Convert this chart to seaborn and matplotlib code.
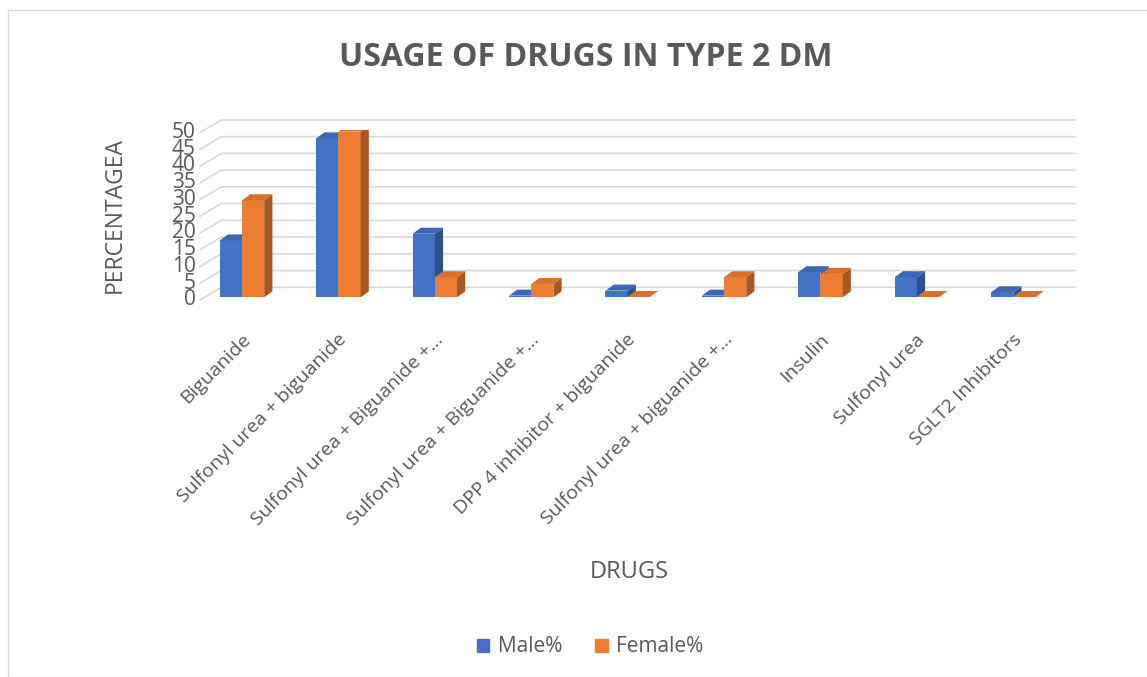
import matplotlib
matplotlib.use("Agg")
import matplotlib.pyplot as plt
import matplotlib.transforms as mtransforms
import pandas as pd
import seaborn as sns
from matplotlib.patches import Polygon, Rectangle
from matplotlib.colors import to_rgb

# data
DRUGS = ['Biguanide', 'Sulfonyl urea + biguanide', 'Sulfonyl urea + Biguanide +\u2026',
         'Sulfonyl urea + Biguanide +\u2026', 'DPP 4 inhibitor + biguanide',
         'Sulfonyl urea + biguanide +\u2026', 'Insulin', 'Sulfonyl urea', 'SGLT2 Inhibitors']
MALE = [17, 47.5, 19, 0.5, 2, 0.5, 7.5, 6, 1.5]
FEMALE = [29, 49.5, 6, 4, 0, 6, 7, 0, 0]
SERIES = ['Male%', 'Female%']
COLORS = ['#4472C4', '#ED7D31']
TICKS = list(range(0, 51, 5))

rows = []
for i, d in enumerate(DRUGS):
    rows.append({'drug': i, 'series': SERIES[0], 'value': MALE[i]})
    rows.append({'drug': i, 'series': SERIES[1], 'value': FEMALE[i]})
df = pd.DataFrame(rows)

sns.set_theme(style="white")
plt.rcParams['font.family'] = ['Open Sans', 'DejaVu Sans']
grey = '#595959'

fig = plt.figure(figsize=(11.47, 6.77), dpi=100)
ax = fig.add_axes([200 / 1147, 1 - 300 / 677, 875 / 1147, 170 / 677])

sns.barplot(data=df, x='drug', y='value', hue='series', palette=COLORS,
            width=0.46, gap=0, saturation=1, linewidth=0, ax=ax, zorder=3, legend=False)

ax.set_ylim(-0.8, 50)
ax.set_xlim(-0.436, 8.64)

# fake 3D depth: side and top faces built from the bars seaborn drew
# male bars first, female bars on top so they hide the male side faces
dx, dy = 0.085, 1.8
n = len(DRUGS)
for k, bar in enumerate(list(ax.patches)):
    z = 3 if k < n else 4
    bar.set_zorder(z)
    x0, w, h = bar.get_x(), bar.get_width(), bar.get_height()
    if h < 0.1:
        h = 0.1
        bar.set_height(h)
    c = to_rgb(bar.get_facecolor())
    dark = tuple(v * 0.7 for v in c)
    top = tuple(min(1, v * 0.9) for v in c)
    ax.add_patch(Polygon([(x0 + w, 0), (x0 + w + dx, dy), (x0 + w + dx, h + dy), (x0 + w, h)],
                         closed=True, facecolor=dark, edgecolor='none', zorder=z))
    ax.add_patch(Polygon([(x0, h), (x0 + dx, h + dy), (x0 + w + dx, h + dy), (x0 + w, h)],
                         closed=True, facecolor=top, edgecolor='none', zorder=z))

# gridlines on the back wall, with a slanted side wall on the left
x_left, x_right = ax.get_xlim()
for v in TICKS:
    ax.plot([x_left, x_left + 0.22, x_right], [v - 0.8, v + 3.0, v + 3.0], color='#d9d9d9',
            linewidth=1.2, zorder=1, clip_on=False)

ax.set_yticks(TICKS)
for s in ax.spines.values():
    s.set_visible(False)

ax.tick_params(axis='y', labelsize=15, labelcolor=grey, length=0, pad=3)
ax.tick_params(axis='x', labelsize=14, labelcolor=grey, length=0, pad=22)
ax.set_xticks(range(n))
ax.set_xticklabels(DRUGS, rotation=45, ha='right', rotation_mode='anchor')
shift = mtransforms.ScaledTranslation(-1 / 100, 0, fig.dpi_scale_trans)
for lab in ax.get_xticklabels():
    lab.set_transform(lab.get_transform() + shift)

ax.set_ylabel('PERCENTAGEA', fontsize=16.5, color=grey)
ax.yaxis.set_label_coords(-(200 - 127) / 875, 0.5)
ax.set_xlabel('')
fig.text(629 / 1147, 1 - 572 / 677, 'DRUGS', fontsize=17, color=grey, ha='center', va='center')
fig.text(586 / 1147, 1 - 58 / 677, 'USAGE OF DRUGS IN TYPE 2 DM', fontsize=23,
         fontweight='bold', color=grey, ha='center', va='center')

# legend
handles = [Rectangle((0, 0), 1, 1, color=c) for c in COLORS]
fig.legend(handles, SERIES, loc='center', bbox_to_anchor=(590 / 1147, 1 - 647 / 677),
           ncol=2, frameon=False, fontsize=15, labelcolor=grey, handlelength=0.6,
           handleheight=0.6, columnspacing=1.6, handletextpad=0.4)

# chart frame
fig.patches.append(Rectangle((8 / 1147, 0), 1.2, 1 - 10 / 677, transform=fig.transFigure,
                             fill=False, edgecolor='#d9d9d9', linewidth=1))

fig.savefig('out.png', dpi=100)
